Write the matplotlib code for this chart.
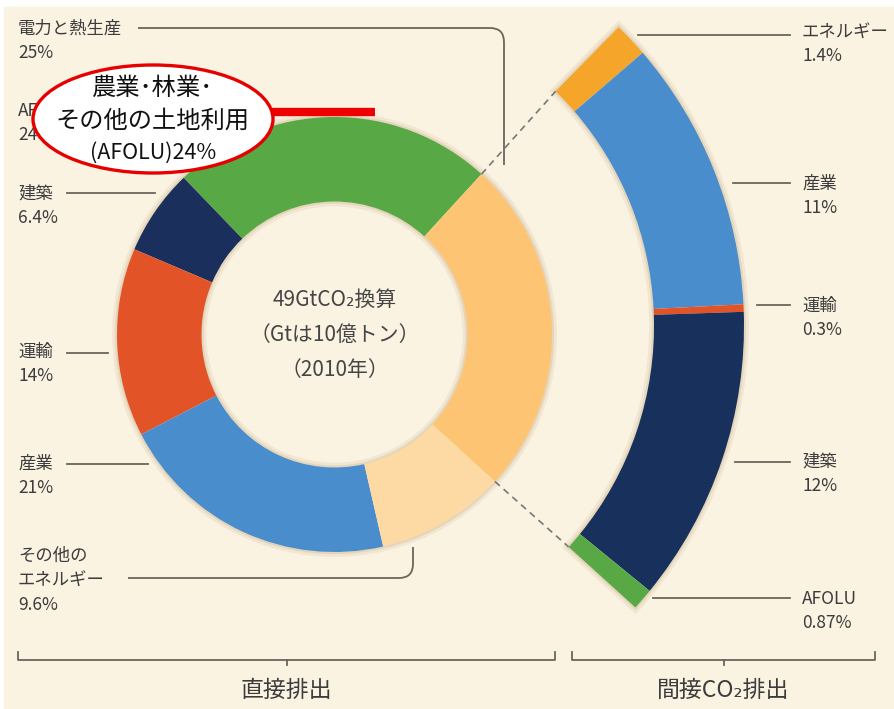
import numpy as np
import matplotlib
matplotlib.use("Agg")
import matplotlib.pyplot as plt
from matplotlib.patches import Wedge, Ellipse, Rectangle, PathPatch
from matplotlib.path import Path

plt.rcParams['font.family'] = ['Noto Sans CJK JP', 'DejaVu Sans']

# direct emissions (counterclockwise from the top-right)
direct_labels = ['AFOLU', '建築', '運輸', '産業', 'その他の\nエネルギー', '電力と熱生産']
direct_values = [24, 6.4, 14, 21, 9.6, 25]
direct_colors = ['#58a846', '#1a2f5c', '#e25428', '#4a8dcd', '#fdd9a3', '#fdc474']

# indirect CO2 from electricity and heat (top to bottom)
indirect_labels = ['エネルギー', '産業', '運輸', '建築', 'AFOLU']
indirect_values = [1.4, 11, 0.3, 12, 0.87]
indirect_colors = ['#f5a62a', '#4a8dcd', '#e25428', '#17305c', '#58a846']

center_lines = ['49GtCO₂換算', '（Gtは10億トン）', '（2010年）']
callout_lines = ['農業･林業･', 'その他の土地利用', '(AFOLU)24%']
group_titles = ['直接排出', '間接CO₂排出']

BG = '#fbf3e2'
TXT = '#3c3c3c'
LINE = '#6b655b'

fig = plt.figure(figsize=(8.94, 7.09), dpi=100)
ax = fig.add_axes([0, 0, 1, 1])
ax.set_xlim(0, 894)
ax.set_ylim(709, 0)
ax.axis('off')
ax.add_patch(Rectangle((4, 7), 890, 702, color=BG, zorder=0))

# donut
cx, cy = 334.5, 334.5
r_out, r_in = 217.5, 133
start = 47.5
ax.add_patch(Wedge((cx, cy), r_out, 0, 360, width=r_out - r_in, facecolor='none',
                   edgecolor='#dcc9aa', lw=7, alpha=0.3, zorder=1))
ax.add_patch(Wedge((cx, cy), r_out, 0, 360, width=r_out - r_in, facecolor='none',
                   edgecolor='#d2bf9e', lw=3, alpha=0.4, zorder=1))
bounds = start + np.concatenate([[0], np.cumsum(direct_values)]) / 100 * 360
for i, col in enumerate(direct_colors):
    a1, a2 = bounds[i], bounds[i + 1]
    ax.add_patch(Wedge((cx, cy), r_out, -a2, -a1, width=r_out - r_in,
                       facecolor=col, edgecolor='none', zorder=2))

# indirect arc
acx, acy = 325, 326
ar_out, ar_in = 419, 329
arc_top, arc_bot = 45.5, -42.2
ab = arc_top - np.concatenate([[0], np.cumsum(indirect_values)]) / sum(indirect_values) * (arc_top - arc_bot)
ax.add_patch(Wedge((acx, acy), ar_out, -arc_top, -arc_bot, width=ar_out - ar_in, facecolor='none',
                   edgecolor='#dcc9aa', lw=7, alpha=0.3, zorder=1))
ax.add_patch(Wedge((acx, acy), ar_out, -arc_top, -arc_bot, width=ar_out - ar_in, facecolor='none',
                   edgecolor='#d2bf9e', lw=3, alpha=0.4, zorder=1))
for i, col in enumerate(indirect_colors):
    a1, a2 = ab[i + 1], ab[i]
    ax.add_patch(Wedge((acx, acy), ar_out, -a2, -a1, width=ar_out - ar_in,
                       facecolor=col, edgecolor='none', zorder=2))

# dashed connectors between the power sector and the arc
for da, aa in [(bounds[-1], arc_top), (bounds[-2], arc_bot)]:
    p0 = (cx + r_out * np.cos(np.radians(da)), cy - r_out * np.sin(np.radians(da)))
    p1 = (acx + ar_in * np.cos(np.radians(aa)), acy - ar_in * np.sin(np.radians(aa)))
    ax.plot([p0[0], p1[0]], [p0[1], p1[1]], color='#777777', lw=1.2,
            dashes=(4, 3), zorder=3)

# center text
for k, s in enumerate(center_lines):
    ax.text(335, 300 + 35 * k, s, ha='center', va='center', fontsize=15, color='#454545', zorder=4)

# left labels: name y, leader line
left_text_y = [112, 195, 353, 465, 557, 30]
left_lines = [None, (67, 155, 193), (67, 108, 353), (67, 148, 464), None, None]
for lab, v, ty, ln in zip(direct_labels, direct_values, left_text_y, left_lines):
    ax.text(18, ty - 10, lab + '\n' + f'{v:g}%', ha='left', va='top', fontsize=12.5,
            color=TXT, linespacing=1.45, zorder=4)
    if ln:
        ax.plot([ln[0], ln[1]], [ln[2], ln[2]], color=LINE, lw=1.3, zorder=3)

# elbow leaders
for verts in ([(138, 28), (490, 28), (504, 28), (504, 42), (504, 165)],
              [(128, 578), (399, 578), (413, 578), (413, 564), (413, 547)]):
    codes = [Path.MOVETO, Path.LINETO, Path.CURVE3, Path.CURVE3, Path.LINETO]
    ax.add_patch(PathPatch(Path(verts, codes), facecolor='none', edgecolor=LINE, lw=1.3, zorder=3))

# right labels
right_text_y = [33, 185, 307, 463, 600]
right_lines = [(638, 35), (733, 183), (757, 305), (735, 462), (653, 598)]
for lab, v, ty, ln in zip(indirect_labels, indirect_values, right_text_y, right_lines):
    ax.text(802, ty - 10, lab + '\n' + f'{v:g}%', ha='left', va='top', fontsize=12.5,
            color=TXT, linespacing=1.45, zorder=4)
    ax.plot([ln[0], 790], [ln[1], ln[1]], color=LINE, lw=1.3, zorder=3)

# callout
ax.plot([272, 375], [112, 112], color='#ee0000', lw=6, solid_capstyle='butt', zorder=5)
ax.add_patch(Ellipse((153, 119), 240, 108, facecolor='white', edgecolor='#e60000', lw=2.4, zorder=6))
for k, s in enumerate(callout_lines):
    ax.text(153, 88 + 32.5 * k, s, ha='center', va='center', fontsize=17.5 if k < 2 else 15.5,
            color='#111111', zorder=7)

# brackets
for (x0, x1), title in zip([(18, 555), (572, 875)], group_titles):
    xm = (x0 + x1) / 2
    ax.plot([x0, x0, x1, x1], [652, 660, 660, 652], color=LINE, lw=1.3, zorder=3)
    ax.plot([xm, xm], [660, 665], color=LINE, lw=1.3, zorder=3)
    ax.text(xm, 690, title, ha='center', va='center', fontsize=16.5, color=TXT, zorder=4)

fig.savefig('out.png', dpi=100, facecolor='white')
